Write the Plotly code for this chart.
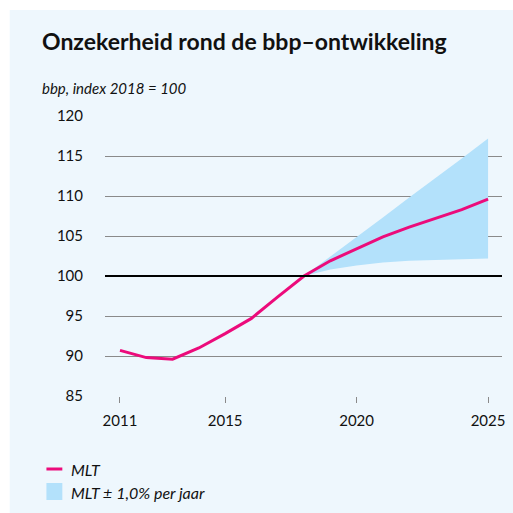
import plotly.graph_objects as go

years = list(range(2011, 2026))
mlt = [90.7, 89.8, 89.6, 91.0, 92.8, 94.7, 97.4, 100.0, 101.9, 103.4, 104.9, 106.1, 107.2, 108.3, 109.6]
band_years = list(range(2018, 2026))
band_upper = [100.0, 102.4, 104.9, 107.3, 109.8, 112.2, 114.7, 117.2]
band_lower = [100.0, 100.8, 101.3, 101.7, 101.9, 102.0, 102.1, 102.2]

y_ticks = [85, 90, 95, 100, 105, 110, 115, 120]
x_ticks = [2011, 2015, 2020, 2025]
legend_labels = ["MLT", "MLT ± 1,0% per jaar"]

BG = "#EEF7FD"
PINK = "#EC0B7B"
BAND = "#B3E1FB"
FONT = "Lato"

# plot area in pixels
L, R, T, B = 105, 505, 116, 396
W, H = R - L, B - T


def px(x):
    return (x - L) / W


def py(y):
    return (B - y) / H


fig = go.Figure()
fig.add_trace(go.Scatter(x=band_years, y=band_lower, mode="lines", line=dict(width=0, color=BAND),
                         showlegend=False, hoverinfo="skip"))
fig.add_trace(go.Scatter(x=band_years, y=band_upper, mode="lines", line=dict(width=0, color=BAND),
                         fill="tonexty", fillcolor=BAND, name=legend_labels[1], showlegend=False))
fig.add_trace(go.Scatter(x=years, y=mlt, mode="lines", line=dict(width=3, color=PINK),
                         name=legend_labels[0], showlegend=False))

fig.add_hline(y=100, line=dict(color="#000000", width=2), layer="above")

fig.update_xaxes(range=[2010.43, 2025.53], tickvals=x_ticks, ticks="outside", ticklen=6,
                 tickcolor="#8a8a8a", tickwidth=1, showgrid=False, zeroline=False, showline=False,
                 ticklabelstandoff=5,
                 tickfont=dict(family=FONT, size=15, color="#111"))
fig.update_yaxes(range=[85, 120], tickvals=y_ticks, showgrid=True, gridcolor="#8a8a8a", gridwidth=1,
                 zeroline=False, showline=False, ticks="", ticklabelstandoff=21,
                 tickfont=dict(family=FONT, size=15, color="#111"))

fig.add_annotation(text="<b>Onzekerheid rond de bbp–ontwikkeling</b>", xref="paper", yref="paper",
                   x=px(40), y=py(41), xanchor="left", yanchor="middle", showarrow=False,
                   font=dict(family=FONT, size=23, color="#111"))
fig.add_annotation(text="<i>bbp, index 2018 = 100</i>", xref="paper", yref="paper",
                   x=px(40), y=py(88), xanchor="left", yanchor="middle", showarrow=False,
                   font=dict(family=FONT, size=15, color="#111"))

# white strips outside the light-blue panel
fig.add_shape(type="rect", xref="paper", yref="paper", x0=px(-20), x1=px(540), y0=py(10), y1=py(-20),
              fillcolor="white", line=dict(width=0), layer="below")
fig.add_shape(type="rect", xref="paper", yref="paper", x0=px(-20), x1=px(9), y0=py(540), y1=py(-20),
              fillcolor="white", line=dict(width=0), layer="below")

# legend drawn by hand
fig.add_shape(type="line", xref="paper", yref="paper", x0=px(46), x1=px(62), y0=py(469), y1=py(469),
              line=dict(color=PINK, width=3))
fig.add_shape(type="rect", xref="paper", yref="paper", x0=px(46), x1=px(62), y0=py(483), y1=py(500),
              fillcolor=BAND, line=dict(width=0))
for label, yc in zip(legend_labels, [469, 492]):
    fig.add_annotation(text=f"<i>{label}</i>", xref="paper", yref="paper", x=px(69), y=py(yc),
                       xanchor="left", yanchor="middle", showarrow=False,
                       font=dict(family=FONT, size=16, color="#111"))

fig.update_layout(
    width=513, height=513,
    margin=dict(l=L, r=513 - R, t=T, b=513 - B),
    paper_bgcolor=BG, plot_bgcolor=BG,
    showlegend=False,
)

fig.write_html(
    "out.html",
    config={"displayModeBar": False},
    post_script=(
        "document.documentElement.style.overflow='hidden';"
        "document.body.style.margin='0';document.body.style.overflow='hidden';"
        f"document.body.style.background='{BG}';document.documentElement.style.background='{BG}';"
    ),
)
